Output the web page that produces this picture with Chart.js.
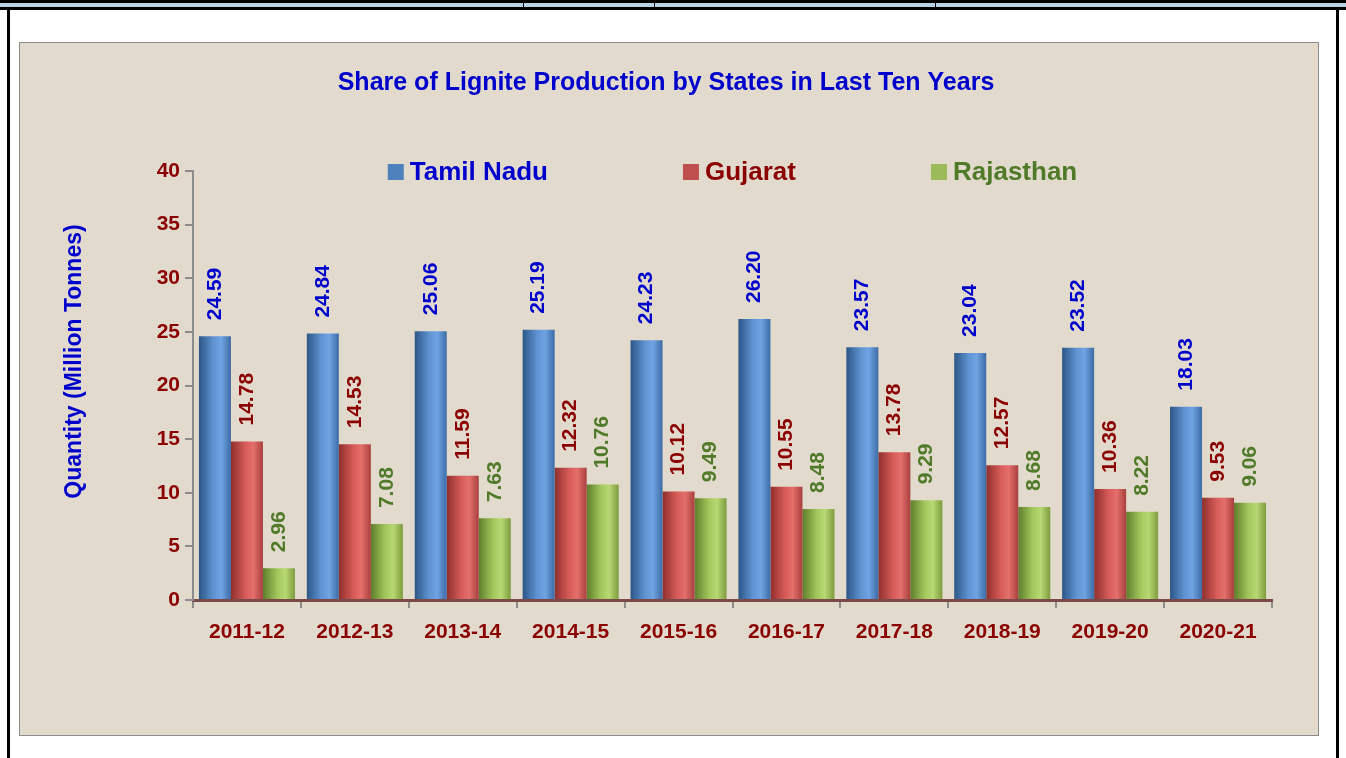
<!DOCTYPE html>
<html>
<head>
<meta charset="utf-8">
<script src="https://cdn.jsdelivr.net/npm/chart.js@4"></script>
<style>
  html, body { margin: 0; padding: 0; background: #fff; }
  body { width: 1346px; height: 758px; position: relative; overflow: hidden; }
  .topline1 { position: absolute; left: 0; top: 0; width: 1346px; height: 3px; background: #000; }
  .topband { position: absolute; left: 0; top: 3px; width: 1346px; height: 4px; background: #b9d3e3; }
  .topline2 { position: absolute; left: 0; top: 7px; width: 1346px; height: 3px; background: #000; }
  .lside { position: absolute; left: 7px; top: 7px; width: 3px; height: 751px; background: #000; }
  .rside { position: absolute; left: 1336px; top: 7px; width: 3px; height: 751px; background: #000; }
  .tick1 { position: absolute; left: 523px; top: 0; width: 1px; height: 7px; background: #000; }
  .tick2 { position: absolute; left: 654px; top: 0; width: 1px; height: 7px; background: #000; }
  .tick3 { position: absolute; left: 935px; top: 0; width: 1px; height: 7px; background: #000; }
  .box { position: absolute; left: 19px; top: 42px; width: 1298px; height: 692px;
         border: 1px solid #8c8c8c; background: #e2dbcd; }
  canvas { display: block; }
</style>
</head>
<body>
<div class="topline1"></div><div class="topband"></div><div class="topline2"></div>
<div class="tick1"></div><div class="tick2"></div><div class="tick3"></div>
<div class="lside"></div><div class="rside"></div>
<div class="box"><canvas id="chart" width="1298" height="692"></canvas></div>
<script>
// data
var years = ['2011-12', '2012-13', '2013-14', '2014-15', '2015-16', '2016-17', '2017-18', '2018-19', '2019-20', '2020-21'];
var tamilNadu = [24.59, 24.84, 25.06, 25.19, 24.23, 26.20, 23.57, 23.04, 23.52, 18.03];
var gujarat = [14.78, 14.53, 11.59, 12.32, 10.12, 10.55, 13.78, 12.57, 10.36, 9.53];
var rajasthan = [2.96, 7.08, 7.63, 10.76, 9.49, 8.48, 9.29, 8.68, 8.22, 9.06];
var yTicks = [0, 5, 10, 15, 20, 25, 30, 35, 40];

var FONT = "'Liberation Sans Narrow', 'Arial Narrow', 'Liberation Sans', Arial, sans-serif";
var DARKRED = '#8b0000';
var TITLEBLUE = '#0000cc';

var seriesStyle = [
  { label: 'Tamil Nadu', box: '#4f81bd', text: '#0000cc', stops: ['#2c5687', '#5f93d2', '#6fa3e2', '#3d6ca6'] },
  { label: 'Gujarat', box: '#c0504d', text: '#8b0000', stops: ['#8e2f2d', '#d75b58', '#e46f6b', '#a8403e'] },
  { label: 'Rajasthan', box: '#9bbb59', text: '#4f7a28', stops: ['#5f7d2c', '#a3c75c', '#b7d872', '#7d9c3e'] }
];

var CAT_PCT = 0.89;

function barGradient(context) {
  var chart = context.chart;
  var xs = chart.scales.x;
  var st = seriesStyle[context.datasetIndex];
  if (!xs || context.dataIndex === undefined || !isFinite(xs.width) || xs.width <= 0) return st.box;
  var catW = xs.width / years.length;
  var bw = catW * CAT_PCT / 3;
  var cx = xs.getPixelForValue(context.dataIndex) + (context.datasetIndex - 1) * bw;
  if (!isFinite(cx)) return st.box;
  var g = chart.ctx.createLinearGradient(cx - bw / 2, 0, cx + bw / 2, 0);
  g.addColorStop(0, st.stops[0]);
  g.addColorStop(0.45, st.stops[1]);
  g.addColorStop(0.7, st.stops[2]);
  g.addColorStop(1, st.stops[3]);
  return g;
}

// value labels, rotated, above each bar
var valueLabels = {
  id: 'valueLabels',
  afterDatasetsDraw: function(chart) {
    var ctx = chart.ctx;
    ctx.save();
    ctx.font = 'bold 21px ' + FONT;
    ctx.textAlign = 'left';
    ctx.textBaseline = 'middle';
    chart.data.datasets.forEach(function(ds, di) {
      var meta = chart.getDatasetMeta(di);
      ctx.fillStyle = seriesStyle[di].text;
      meta.data.forEach(function(bar, i) {
        var p = bar.getProps(['x', 'y'], true);
        ctx.save();
        ctx.translate(p.x, p.y - 16);
        ctx.rotate(-Math.PI / 2);
        ctx.fillText(ds.data[i].toFixed(2), 0, 0);
        ctx.restore();
      });
    });
    ctx.restore();
  }
};

// legend row across the top of the plot area, and the y axis title
var topLegend = {
  id: 'topLegend',
  afterDraw: function(chart) {
    var ctx = chart.ctx;
    var area = chart.chartArea;
    ctx.save();
    ctx.font = 'bold 26px ' + FONT;
    ctx.textBaseline = 'middle';
    var box = 16, gapBox = 6, gapItem = 135;
    var widths = seriesStyle.map(function(s) { return box + gapBox + ctx.measureText(s.label).width; });
    var total = widths.reduce(function(a, b) { return a + b; }, 0) + gapItem * (widths.length - 1);
    var x = (area.left + area.right) / 2 - total / 2;
    var y = area.top + 1;
    seriesStyle.forEach(function(s, i) {
      ctx.fillStyle = s.box;
      ctx.fillRect(x, y - box / 2, box, box);
      ctx.fillStyle = s.text;
      ctx.fillText(s.label, x + box + gapBox, y + 1);
      x += widths[i] + gapItem;
    });

    // y axis title, a little above the middle of the axis
    ctx.font = 'bold 23px ' + FONT;
    ctx.fillStyle = TITLEBLUE;
    ctx.textAlign = 'center';
    ctx.translate(55, (area.top + area.bottom) / 2 - 24);
    ctx.rotate(-Math.PI / 2);
    ctx.fillText('Quantity (Million Tonnes)', 0, 0);
    ctx.restore();
  }
};

var ctx = document.getElementById('chart').getContext('2d');
window.ligniteChart = new Chart(ctx, {
  type: 'bar',
  data: {
    labels: years,
    datasets: [
      { label: 'Tamil Nadu', data: tamilNadu, backgroundColor: barGradient },
      { label: 'Gujarat', data: gujarat, backgroundColor: barGradient },
      { label: 'Rajasthan', data: rajasthan, backgroundColor: barGradient }
    ]
  },
  options: {
    responsive: false,
    animation: false,
    layout: { padding: { left: 40, right: 46, top: 0, bottom: 0 } },
    datasets: {
      bar: {
        borderWidth: 0,
        barPercentage: 1,
        categoryPercentage: CAT_PCT
      }
    },
    plugins: {
      legend: { display: false },
      tooltip: { enabled: false },
      colors: { enabled: false },
      title: {
        display: true,
        text: 'Share of Lignite Production by States in Last Ten Years',
        color: TITLEBLUE,
        font: { family: FONT, size: 25, weight: 'bold' },
        padding: { top: 25, bottom: 73 }
      }
    },
    scales: {
      x: {
        grid: { display: true, drawOnChartArea: false, offset: true, color: '#8c8c8c', tickLength: 8, lineWidth: 2 },
        border: { display: true, color: '#7a4a48', width: 3 },
        ticks: { color: DARKRED, font: { family: FONT, size: 21, weight: 'bold' }, padding: 12, maxRotation: 0 },
        afterFit: function(scale) { scale.height = 135; }
      },
      y: {
        min: 0,
        max: 40,
        afterBuildTicks: function(scale) { scale.ticks = yTicks.map(function(v) { return { value: v }; }); },
        grid: { display: true, drawOnChartArea: false, color: '#8c8c8c', tickLength: 8, lineWidth: 2 },
        border: { display: true, color: '#8c8c8c', width: 2 },
        ticks: { color: DARKRED, font: { family: FONT, size: 21, weight: 'bold' }, padding: 5 },
        afterFit: function(scale) { scale.width = 133; }
      }
    }
  },
  plugins: [valueLabels, topLegend]
});
</script>
</body>
</html>
